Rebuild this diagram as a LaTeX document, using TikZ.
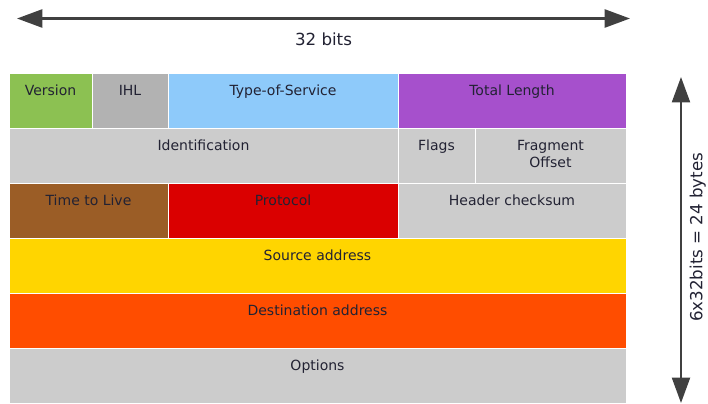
\documentclass[tikz,border=0pt]{standalone}
\usepackage{fontspec}
\setmainfont{DejaVu Sans}
\usepackage{xcolor}
\usepackage{tikz}
\usetikzlibrary{arrows.meta,positioning}

\definecolor{ink}{RGB}{34,34,51}
\definecolor{cver}{RGB}{140,193,82}
\definecolor{cihl}{RGB}{178,178,178}
\definecolor{ctos}{RGB}{142,202,250}
\definecolor{clen}{RGB}{166,80,204}
\definecolor{cgray}{RGB}{204,204,204}
\definecolor{cttl}{RGB}{155,93,38}
\definecolor{cpro}{RGB}{218,0,0}
\definecolor{csrc}{RGB}{255,213,0}
\definecolor{cdst}{RGB}{255,77,0}

\begin{document}
\begin{tikzpicture}[x=0.75pt,y=-0.75pt,font=\fontsize{10.5}{12.75}\selectfont,
 f/.style={draw=white,line width=0.4pt,inner sep=0pt,outer sep=0pt,align=center,text=ink,
  minimum height=41.25pt,text height=16.5pt,text depth=24.75pt,anchor=north west},
 d/.style={{Triangle[length=19pt,width=13.5pt]}-{Triangle[length=19pt,width=13.5pt]},draw=black!75},
 lbl/.style={font=\fontsize{12.5}{14}\selectfont,text=ink,inner sep=0pt}]
\useasboundingbox (0,0) rectangle (708,404);
% row 1
\node[f,fill=cver,minimum width=62.25pt] (ver) at (9,73) {Version};
\node[f,fill=cihl,minimum width=57pt,right=0pt of ver] (ihl) {IHL};
\node[f,fill=ctos,minimum width=172.5pt,right=0pt of ihl] (tos) {Type-of-Service};
\node[f,fill=clen,minimum width=171pt,right=0pt of tos] (len) {Total Length};
% row 2 (two-line box sits on its last line, so lift it)
\node[f,fill=cgray,minimum width=291.75pt,below right=0pt of ver.south west] (id) {Identification};
\node[f,fill=cgray,minimum width=57.75pt,right=0pt of id] (flg) {Flags};
\node[f,fill=cgray,minimum width=113.25pt,text height=29.25pt,text depth=12pt,right=0pt of flg] (frag) {Fragment\\Offset};
% row 3
\node[f,fill=cttl,minimum width=119.25pt,below right=0pt of id.south west] (ttl) {Time to Live};
\node[f,fill=cpro,minimum width=172.5pt,right=0pt of ttl] (pro) {Protocol};
\node[f,fill=cgray,minimum width=171pt,right=0pt of pro] (chk) {Header checksum};
% rows 4-6
\node[f,fill=csrc,minimum width=462.75pt,below right=0pt of ttl.south west] (src) {Source address};
\node[f,fill=cdst,minimum width=462.75pt,below right=0pt of src.south west] (dst) {Destination address};
\node[f,fill=cgray,minimum width=462.75pt,below right=0pt of dst.south west] (opt) {Options};
% size arrows
\coordinate (wl) at (17,18.5);
\coordinate (wr) at (630,18.5);
\coordinate (ht) at (681,77);
\coordinate (hb) at (681,403);
\draw[d,line width=1.9pt] (wl)--(wr) node[lbl,midway,anchor=base,yshift=-20.5pt]{32 bits};
\draw[d,line width=1.5pt] (ht)--(hb) node[lbl,midway,rotate=90,xshift=2pt,yshift=-12.5pt]{6x32bits = 24 bytes};
\end{tikzpicture}
\end{document}
